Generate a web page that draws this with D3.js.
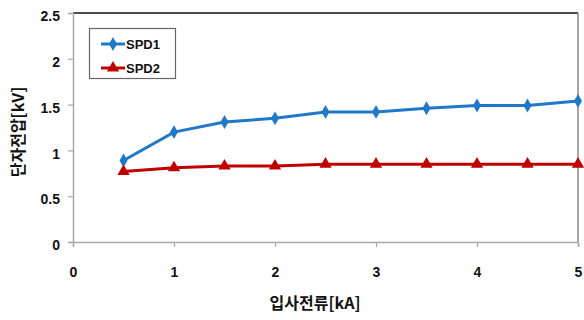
<!DOCTYPE html>
<html>
<head>
<meta charset="utf-8">
<script src="https://cdn.jsdelivr.net/npm/d3@7"></script>
<style>
  html, body { margin: 0; padding: 0; background: #fff; }
  svg { display: block; }
  text { font-family: "Liberation Sans", Arial, "Noto Sans CJK KR", sans-serif; fill: #111; }
  .title { font-family: "Noto Sans CJK KR", sans-serif; font-weight: bold; }
</style>
</head>
<body>
<svg id="chart" width="584" height="320"></svg>
<script>
// Incident current [kA]
const current = [0.5, 1, 1.5, 2, 2.5, 3, 3.5, 4, 4.5, 5];
// Terminal voltage [kV] per protector
const spd1 = [0.89, 1.20, 1.31, 1.35, 1.42, 1.42, 1.46, 1.49, 1.49, 1.54];
const spd2 = [0.77, 0.81, 0.83, 0.83, 0.85, 0.85, 0.85, 0.85, 0.85, 0.85];
const seriesNames = ["SPD1", "SPD2"];
const xTicks = [0, 1, 2, 3, 4, 5];
const yTicks = [0, 0.5, 1, 1.5, 2, 2.5];
const xTitle = "입사전류[kA]";
const yTitle = "단자전압[kV]";

const svg = d3.select("#chart");
const plotL = 73, plotR = 578, plotT = 13, plotB = 242;

const x = d3.scaleLinear().domain([0, 5]).range([plotL, plotR]);
const y = d3.scaleLinear().domain([0, 2.5]).range([plotB, plotT]);

// Frame: black top edge, grey right edge
svg.append("line").attr("x1", plotL).attr("x2", plotR).attr("y1", plotT).attr("y2", plotT)
  .attr("stroke", "#111").attr("stroke-width", 1.5);
svg.append("line").attr("x1", plotR).attr("x2", plotR).attr("y1", plotT).attr("y2", plotB)
  .attr("stroke", "#888").attr("stroke-width", 1.5);

// Axes
const yAxis = svg.append("g").attr("transform", `translate(${plotL},0)`)
  .call(d3.axisLeft(y).tickValues(yTicks).tickFormat(d3.format("")).tickSize(5).tickPadding(8));
const xAxis = svg.append("g").attr("transform", `translate(0,${plotB})`)
  .call(d3.axisBottom(x).tickValues(xTicks).tickFormat(d3.format("")).tickSize(5).tickPadding(20));
[yAxis, xAxis].forEach(g => {
  g.select(".domain").attr("stroke", "#aaa").attr("stroke-width", 1.5);
  g.selectAll(".tick line").attr("stroke", "#aaa").attr("stroke-width", 1.2);
  g.selectAll(".tick text").attr("font-size", 14).attr("font-weight", "bold").attr("fill", "#111")
    .attr("font-family", "'Liberation Sans', Arial, sans-serif");
});
yAxis.selectAll(".tick text").attr("dy", "0.55em");

// Axis titles
svg.append("text").attr("class", "title")
  .attr("x", 315).attr("y", 309).attr("text-anchor", "middle").attr("font-size", 16)
  .text(xTitle);
svg.append("text").attr("class", "title")
  .attr("transform", `translate(24,132) rotate(-90)`).attr("text-anchor", "middle").attr("font-size", 16)
  .text(yTitle);

const colors = ["#1f78c8", "#c00000"];
const symbols = [d3.symbolDiamond, d3.symbolTriangle];
const symSize = [55, 65];
const data = [spd1, spd2];

const line = d3.line().x(d => x(d[0])).y(d => y(d[1]));

data.forEach((vals, i) => {
  const pts = current.map((c, j) => [c, vals[j]]);
  svg.append("path").datum(pts).attr("d", line)
    .attr("fill", "none").attr("stroke", colors[i]).attr("stroke-width", 3);
  svg.append("g").selectAll("path").data(pts).join("path")
    .attr("transform", d => `translate(${x(d[0])},${y(d[1])})`)
    .attr("d", d3.symbol().type(symbols[i]).size(symSize[i]))
    .attr("fill", colors[i]);
});

// Legend
const lg = svg.append("g");
lg.append("rect").attr("x", 89.5).attr("y", 28.5).attr("width", 86).attr("height", 50)
  .attr("fill", "#fff").attr("stroke", "#666").attr("stroke-width", 1.2);
seriesNames.forEach((name, i) => {
  const cy = 44 + i * 24;
  lg.append("line").attr("x1", 101).attr("x2", 125).attr("y1", cy).attr("y2", cy)
    .attr("stroke", colors[i]).attr("stroke-width", 3);
  lg.append("path").attr("transform", `translate(113,${cy})`)
    .attr("d", d3.symbol().type(symbols[i]).size(symSize[i])).attr("fill", colors[i]);
  lg.append("text").attr("x", 126).attr("y", cy + 5).attr("font-size", 13).attr("font-weight", "bold")
    .attr("font-family", "'Liberation Sans', Arial, sans-serif").text(name);
});
</script>
</body>
</html>
